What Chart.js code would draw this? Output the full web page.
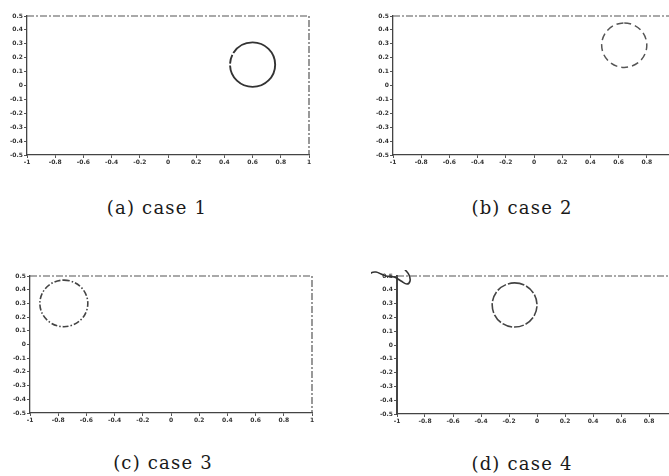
<!DOCTYPE html>
<html>
<head>
<meta charset="utf-8">
<script src="https://cdn.jsdelivr.net/npm/chart.js@4.4.0/dist/chart.umd.min.js"></script>
<style>
  html, body { margin:0; padding:0; background:#fff; width:669px; height:476px; overflow:hidden; position:relative; }
  canvas { position:absolute; }
  .cap { position:absolute; font-family:"DejaVu Serif", "Liberation Serif", serif; font-size:18px; letter-spacing:1.2px; color:#1a1a1a; transform:translate(-50%,-50%); white-space:nowrap; }
</style>
</head>
<body>
<script>
// ---- data ----
const xTicks = [-1, -0.8, -0.6, -0.4, -0.2, 0, 0.2, 0.4, 0.6, 0.8, 1];
const xTickLabels = ['-1', '-0.8', '-0.6', '-0.4', '-0.2', '0', '0.2', '0.4', '0.6', '0.8', '1'];
const yTicks = [0.5, 0.4, 0.3, 0.2, 0.1, 0, -0.1, -0.2, -0.3, -0.4, -0.5];
const yTickLabels = ['0.5', '0.4', '0.3', '0.2', '0.1', '0', '-0.1', '-0.2', '-0.3', '-0.4', '-0.5'];
const captions = ['(a) case 1', '(b) case 2', '(c) case 3', '(d) case 4'];
const circleCenterX = [0.6, 0.64, -0.76, -0.16];
const circleCenterY = [0.15, 0.29, 0.3, 0.29];
const circleRadius = [0.16, 0.16, 0.17, 0.16];
// scribble at the top-left corner of case 4
const squiggleX = [-1.214, -1.186, -1.15, -1.114, -1.079, -1.021, -0.971, -0.929, -0.907, -0.914, -0.95, -0.964];
const squiggleY = [0.486, 0.522, 0.529, 0.514, 0.5, 0.493, 0.464, 0.442, 0.464, 0.507, 0.558, 0.601];

// ---- layout / style ----
const panelBoxes = [
  {L:27, T:16, R:309, B:155},
  {L:393, T:16, R:675, B:155},
  {L:30, T:276, R:312, B:413},
  {L:397, T:276, R:677, B:414}
];
const captionPos = [[157, 207], [522, 207], [163, 462], [522, 463]];
const circleDash = [[104, 2, 9, 2, 60], [7, 4], [6, 2, 1.5, 2], [10, 2]];
const circleColor = ['#333', '#555', '#444', '#444'];
const circleWidth = [1.9, 1.5, 1.6, 1.6];
const padL = 26, padT = 6, padR = 6, padB = 14;

const framePlugin = {
  id: 'frame',
  afterDraw(chart) {
    const a = chart.chartArea, ctx = chart.ctx;
    ctx.save();
    ctx.strokeStyle = '#555';
    ctx.lineWidth = 1.2;
    ctx.setLineDash([7, 2, 2, 2]);
    ctx.beginPath();
    ctx.moveTo(a.left, a.top); ctx.lineTo(a.right, a.top); ctx.lineTo(a.right, a.bottom);
    ctx.stroke();
    ctx.restore();
  }
};

const circlePlugin = {
  id: 'circle',
  afterDatasetsDraw(chart, args, opts) {
    const i = opts.idx;
    const xs = chart.scales.x, ys = chart.scales.y;
    const px = xs.getPixelForValue(circleCenterX[i]);
    const py = ys.getPixelForValue(circleCenterY[i]);
    const rx = Math.abs(xs.getPixelForValue(circleCenterX[i] + circleRadius[i]) - px);
    const ry = Math.abs(ys.getPixelForValue(circleCenterY[i] + circleRadius[i]) - py);
    const ctx = chart.ctx;
    ctx.save();
    ctx.strokeStyle = circleColor[i];
    ctx.lineWidth = circleWidth[i];
    ctx.setLineDash(circleDash[i]);
    ctx.beginPath();
    ctx.ellipse(px, py, rx, ry, 0, -Math.PI / 2, Math.PI * 1.5);
    ctx.stroke();
    ctx.restore();
  }
};

panelBoxes.forEach((b, i) => {
  const cv = document.createElement('canvas');
  const w = (b.R - b.L) + padL + padR;
  const h = (b.B - b.T) + padT + padB;
  cv.width = w; cv.height = h;
  cv.style.left = (b.L - padL) + 'px';
  cv.style.top = (b.T - padT) + 'px';
  cv.style.width = w + 'px'; cv.style.height = h + 'px';
  document.body.appendChild(cv);

  const datasets = [];
  if (i === 3) {
    datasets.push({
      type: 'line',
      data: squiggleX.map((x, k) => ({x: x, y: squiggleY[k]})),
      borderColor: '#333', borderWidth: 1.6, pointRadius: 0,
      tension: 0.4, clip: false, fill: false
    });
  }

  new Chart(cv, {
    type: 'scatter',
    data: { datasets: datasets },
    plugins: [framePlugin, circlePlugin],
    options: {
      responsive: false,
      animation: false,
      devicePixelRatio: 1,
      layout: { padding: { left: 0, top: padT, right: padR, bottom: 0 } },
      plugins: { legend: { display: false }, tooltip: { enabled: false }, circle: { idx: i } },
      scales: {
        x: {
          type: 'linear', min: -1, max: 1,
          afterFit(s) { s.height = padB; },
          afterBuildTicks(s) { s.ticks = xTicks.map(v => ({value: v})); },
          ticks: {
            callback: (v, k) => xTickLabels[k],
            font: { family: 'DejaVu Sans', size: 6, weight: 'bold' },
            color: '#333', padding: 1, maxRotation: 0, autoSkip: false
          },
          grid: { drawOnChartArea: false, tickLength: 3, color: '#555', lineWidth: 1 },
          border: { color: '#444', width: 1.3, dash: [8, 1.5] }
        },
        y: {
          type: 'linear', min: -0.5, max: 0.5,
          afterFit(s) { s.width = padL; },
          afterBuildTicks(s) { s.ticks = yTicks.map(v => ({value: v})); },
          ticks: {
            callback: (v, k) => yTickLabels[k],
            font: { family: 'DejaVu Sans', size: 6, weight: 'bold' },
            color: '#333', padding: 1, autoSkip: false
          },
          grid: { drawOnChartArea: false, tickLength: 3, color: '#555', lineWidth: 1 },
          border: { color: '#444', width: i === 3 ? 2 : 1.3 }
        }
      }
    }
  });

  const cap = document.createElement('div');
  cap.className = 'cap';
  cap.textContent = captions[i];
  cap.style.left = captionPos[i][0] + 'px';
  cap.style.top = captionPos[i][1] + 'px';
  document.body.appendChild(cap);
});
</script>
</body>
</html>
